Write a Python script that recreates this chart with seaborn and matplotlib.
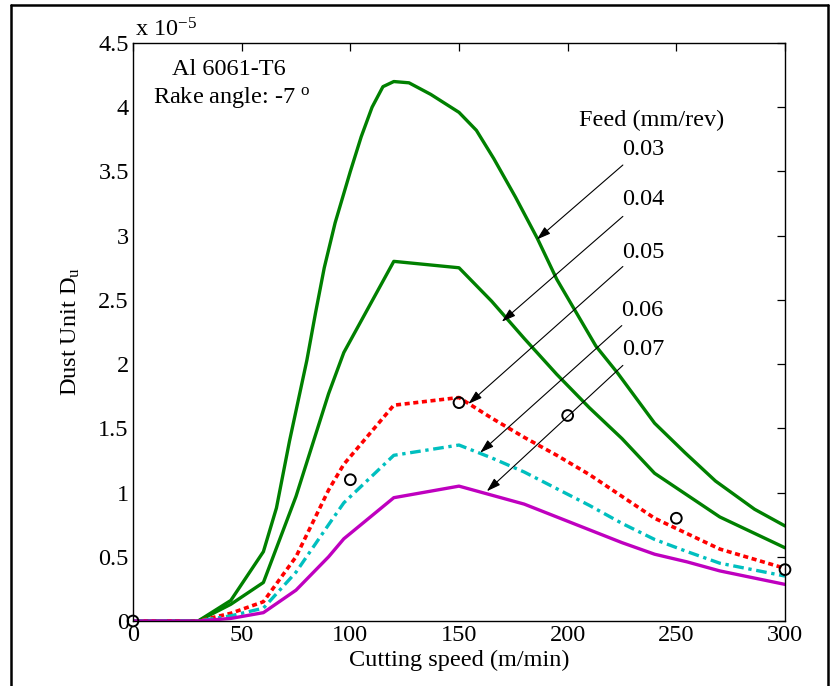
import numpy as np
import pandas as pd
import seaborn as sns
import matplotlib.pyplot as plt
from matplotlib.lines import Line2D

# cutting speed (m/min) and dust unit (x 1e-5)
speed_003 = [0, 30, 45, 60, 66, 72, 80, 84, 88, 93, 100, 105, 110, 115, 120, 127, 137, 150, 158, 166, 176, 186, 195, 213, 223, 240, 254, 268, 286, 300]
du_003 = [0, 0, 0.16, 0.54, 0.88, 1.40, 2.03, 2.40, 2.75, 3.10, 3.50, 3.77, 4.00, 4.16, 4.20, 4.19, 4.10, 3.96, 3.82, 3.60, 3.30, 2.98, 2.66, 2.14, 1.93, 1.54, 1.31, 1.09, 0.87, 0.74]

speed = [0, 30, 45, 60, 75, 90, 97, 120, 150, 165, 180, 195, 210, 225, 240, 255, 270, 300]
du_004 = [0, 0, 0.13, 0.30, 0.97, 1.77, 2.09, 2.80, 2.75, 2.49, 2.20, 1.92, 1.66, 1.42, 1.15, 0.98, 0.81, 0.57]
du_005 = [0, 0, 0.06, 0.15, 0.50, 1.02, 1.22, 1.68, 1.74, 1.58, 1.43, 1.29, 1.14, 0.97, 0.80, 0.68, 0.56, 0.41]
du_006 = [0, 0, 0.04, 0.10, 0.38, 0.75, 0.92, 1.29, 1.37, 1.27, 1.16, 1.03, 0.90, 0.76, 0.635, 0.54, 0.45, 0.35]
du_007 = [0, 0, 0.02, 0.065, 0.24, 0.50, 0.64, 0.96, 1.05, 0.98, 0.91, 0.81, 0.71, 0.61, 0.52, 0.46, 0.39, 0.285]

# measured points (circles)
exp_speed = [0, 100, 150, 200, 250, 300]
exp_du = [0, 1.10, 1.70, 1.60, 0.80, 0.40]

feed_labels = ['0.03', '0.04', '0.05', '0.06', '0.07']
# label position, arrow tail, arrow tip (data coords)
label_xy = [(234.7, 3.67), (234.7, 3.28), (234.7, 2.87), (234.1, 2.42), (234.7, 2.11)]
arrow_tail = [(225.4, 3.55), (225.4, 3.15), (225.4, 2.76), (224.9, 2.30), (225.4, 1.99)]
arrow_tip = [(185.8, 2.97), (169.7, 2.33), (154.3, 1.69), (159.7, 1.31), (162.8, 1.01)]

sns.set_theme(style="white")
plt.rcParams['font.family'] = ['Liberation Serif', 'DejaVu Serif']
plt.rcParams['mathtext.fontset'] = 'custom'
plt.rcParams['mathtext.rm'] = 'Liberation Serif'
plt.rcParams['mathtext.it'] = 'Liberation Serif:italic'

fs = 17.5

fig = plt.figure(figsize=(8.38, 6.86), dpi=100)
ax = fig.add_axes([133 / 838, 1 - 621 / 686, 652 / 838, 578 / 686])

green = '#008000'
sns.lineplot(x=speed_003, y=du_003, ax=ax, color=green, lw=2.4, sort=False)
sns.lineplot(x=speed, y=du_004, ax=ax, color=green, lw=2.4, sort=False)
sns.lineplot(x=speed, y=du_005, ax=ax, color='#ff0000', lw=2.6, sort=False, linestyle=(0, (1.4, 1.0)))
sns.lineplot(x=speed, y=du_006, ax=ax, color='#00bfbf', lw=2.4, sort=False, linestyle=(0, (3.2, 1.4, 1.0, 1.4)))
sns.lineplot(x=speed, y=du_007, ax=ax, color='#bf00bf', lw=2.4, sort=False)
sns.scatterplot(x=exp_speed, y=exp_du, ax=ax, marker='o', s=60, facecolor='none',
                edgecolor='black', linewidth=1.4, zorder=5, clip_on=False)

ax.set_xlim(0, 300)
ax.set_ylim(0, 4.5)
ax.set_xticks(np.arange(0, 301, 50))
ax.set_yticks(np.arange(0, 4.51, 0.5))
ax.set_xticklabels(['0', '50', '100', '150', '200', '250', '300'])
ax.set_yticklabels(['0', '0.5', '1', '1.5', '2', '2.5', '3', '3.5', '4', '4.5'])
ax.tick_params(direction='in', length=6, width=0.9, top=True, right=True,
               labelsize=fs, colors='black', pad=3)
for sp in ax.spines.values():
    sp.set_color('black')
    sp.set_linewidth(1.0)

ax.set_xlabel('Cutting speed (m/min)', fontsize=fs, color='black')
ax.set_ylabel(r'Dust Unit D$_\mathrm{u}$', fontsize=fs, color='black')
ax.xaxis.set_label_coords(0.5, -0.05)
ax.yaxis.set_label_coords(-0.078, 0.5)

ax.text(0.003, 1.012, r'x 10$^{\mathrm{-5}}$', transform=ax.transAxes, fontsize=fs,
        ha='left', va='baseline', color='black')
ax.text(17.9, 4.25, 'Al 6061-T6', fontsize=fs, ha='left', va='baseline', color='black')
ax.text(9.2, 4.03, r'Rake angle: -7 $^\mathrm{o}$', fontsize=fs, ha='left', va='baseline', color='black')
ax.text(238.7, 3.9, 'Feed (mm/rev)', fontsize=fs, ha='center', va='center', color='black')

for lab, pos, tail, tip in zip(feed_labels, label_xy, arrow_tail, arrow_tip):
    ax.text(pos[0], pos[1], lab, fontsize=fs, ha='center', va='center', color='black')
    ax.annotate('', xy=tip, xytext=tail,
                arrowprops=dict(arrowstyle='-|>,head_length=0.7,head_width=0.22',
                                color='black', lw=0.8, shrinkA=0, shrinkB=0))

# outer frame around the figure
for xs, ys in [([11, 11], [686, 5]), ([11, 828], [5, 5]), ([828, 828], [5, 686])]:
    fig.add_artist(Line2D([x / 838 for x in xs], [1 - y / 686 for y in ys],
                          color='black', lw=1.8, transform=fig.transFigure))

fig.savefig('out.png', dpi=100)
